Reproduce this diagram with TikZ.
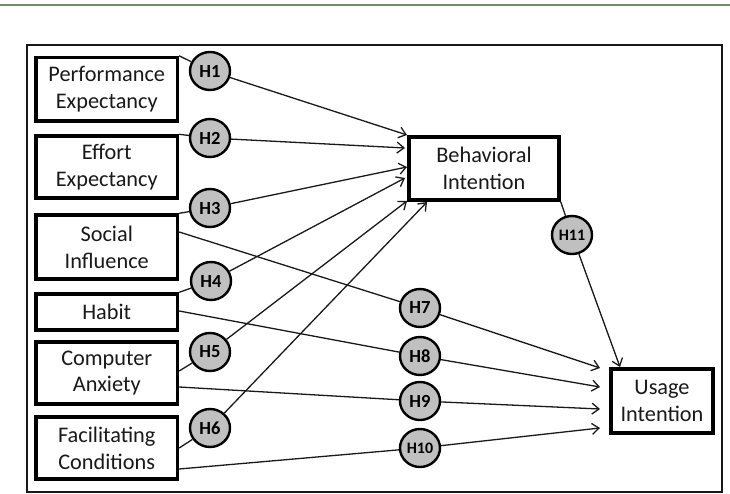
\documentclass[tikz,border=0pt]{standalone}
\usepackage{fontspec}
\setmainfont{Carlito}
\usetikzlibrary{arrows.meta,shapes.geometric,calc}
\definecolor{hypgray}{RGB}{192,192,192}
\definecolor{rulegreen}{RGB}{112,140,100}
\begin{document}
\begin{tikzpicture}[x=1pt,y=-1pt,
  box/.style={draw=black, line width=3.4pt, fill=white, align=center, inner sep=0pt,
    font=\fontsize{22.3}{26.7}\selectfont, text=black!90},
  hyp/.style={ellipse, draw=black, line width=2.4pt, fill=hypgray, inner sep=0pt,
    minimum width=40pt, minimum height=38pt, font=\fontsize{18.5}{20}\selectfont\bfseries, text=black},
  hypsm/.style={hyp, font=\fontsize{16}{18}\selectfont\bfseries},
  link/.style={draw=black!90, line width=1.3pt},
  arr/.style={link, -{Straight Barb[length=7pt,width=11pt]}},
  frame/.style={draw=black!90, line width=2.2pt}
]
\useasboundingbox (0,0) rectangle (730,494);
% top rule
\draw[rulegreen, line width=2pt] (0,5) -- (730,5);
% outer frame
\draw[frame] (27,45) rectangle (722,492);

% constructs
\node[box, minimum width=141.5pt, minimum height=63.5pt] (PE) at (106.75,89.25) {Performance\\Expectancy};
\node[box, minimum width=141.5pt, minimum height=62pt] (EE) at (106.75,167) {Effort\\Expectancy};
\node[box, minimum width=141.5pt, minimum height=64pt] (SI) at (106.75,247) {Social\\Influence};
\node[box, minimum width=141.5pt, minimum height=36pt] (HA) at (106.75,312) {Habit};
\node[box, minimum width=141.5pt, minimum height=62pt] (CA) at (106.75,373) {Computer\\Anxiety};
\node[box, minimum width=141.5pt, minimum height=62pt] (FC) at (106.75,448) {Facilitating\\Conditions};
\node[box, minimum width=150pt, minimum height=63pt] (BI) at (484,168.5) {Behavioral\\Intention};
\node[box, minimum width=102pt, minimum height=64pt] (UI) at (662,401) {Usage\\Intention};

% hypotheses
\node[hyp] (H1) at (210,71) {H1};
\node[hyp] (H2) at (210,138) {H2};
\node[hyp] (H3) at (210,208) {H3};
\node[hyp] (H4) at (211,281) {H4};
\node[hyp] (H5) at (210,352) {H5};
\node[hyp] (H6) at (210,428) {H6};
\node[hyp] (H7) at (420,308) {H7};
\node[hyp] (H8) at (420,356) {H8};
\node[hyp] (H9) at (420,401) {H9};
\node[hypsm] (H10) at (420,448) {H10};
\node[hypsm] (H11) at (572,235) {H11};

% arrow end points
\coordinate (b1) at (407,135);
\coordinate (b2) at (405,148);
\coordinate (b3) at (407,167);
\coordinate (b4) at (405,178);
\coordinate (b5) at (407,201);
\coordinate (b6) at (427,202);
\coordinate (u7) at (600,368);
\coordinate (u8) at (600,387);
\coordinate (u9) at (600,409);
\coordinate (u10) at (600,428);
\coordinate (u11) at (620,367);

% paths to behavioral intention
\draw[link] (PE.north east) -- (H1);
\draw[arr] (H1) -- (b1);
\draw[link] (EE.north east) -- (H2);
\draw[arr] (H2) -- (b2);
\draw[link] (SI.north east) -- (H3);
\draw[arr] (H3) -- (b3);
\draw[link] (HA.north east) -- (H4);
\draw[arr] (H4) -- (b4);
\draw[link] ([yshift=2pt]CA.east) -- (H5);
\draw[arr] (H5) -- (b5);
\draw[link] (FC.east) -- (H6);
\draw[arr] (H6) -- (b6);

% paths to usage intention
\draw[link] ([yshift=15pt]SI.east) -- (H7);
\draw[arr] (H7) -- (u7);
\draw[link] ([yshift=1pt]HA.east) -- (H8);
\draw[arr] (H8) -- (u8);
\draw[link] ([yshift=-14pt]CA.east) -- (H9);
\draw[arr] (H9) -- (u9);
\draw[link] ([yshift=-21pt]FC.east) -- (H10);
\draw[arr] (H10) -- (u10);
\draw[link] (BI.south east) -- (H11);
\draw[arr] (H11) -- (u11);
\end{tikzpicture}
\end{document}
